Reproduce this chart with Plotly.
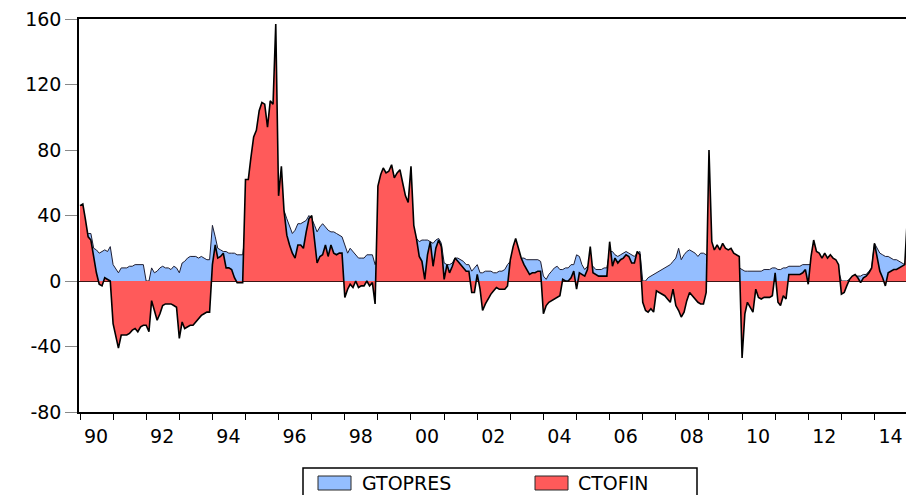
import pandas as pd
import plotly.graph_objects as go

# ---------------- data (monthly, 1990M01 - 2015M03) ----------------
start_month = "1990-01-01"

ctofin = [
    46, 47, 38, 27, 25, 15, 5, -2, -3, 2, 1, 0,            # 1990
    -26, -34, -41, -33, -33, -33, -32, -30, -29, -31, -28, -27,  # 1991
    -27, -31, -12, -19, -24, -20, -15, -14, -14, -14, -15, -16,  # 1992
    -35, -25, -29, -28, -27, -27, -25, -23, -21, -20, -19, -19,  # 1993
    10, 22, 14, 15, 17, 8, 8, 7, 2, -1, -1, -1,             # 1994
    62, 62, 75, 88, 92, 104, 109, 108, 94, 110, 108, 157,   # 1995
    52, 70, 43, 28, 22, 17, 14, 22, 22, 20, 30, 38,         # 1996
    40, 24, 11, 15, 16, 22, 15, 22, 17, 16, 17, 17,         # 1997
    -10, -5, -2, -4, 0, -4, -3, -3, 0, -3, -1, -14,         # 1998
    58, 65, 69, 66, 67, 71, 63, 66, 68, 60, 52, 48,         # 1999
    70, 34, 26, 15, 12, 1, 16, 24, 9, 20, 25, 21,           # 2000
    1, 10, 5, 9, 14, 12, 10, 8, 6, 6, -7, -7,               # 2001
    4, -5, -18, -14, -11, -8, -6, -4, -5, -5, -5, -3,       # 2002
    13, 21, 26, 20, 14, 10, 7, 4, 5, 5, 6, 6,               # 2003
    -20, -15, -13, -12, -11, -10, -9, 1, 0, 0, 2, 6,        # 2004
    -5, 5, 4, 3, 7, 21, 5, 4, 3, 3, 3, 3,                   # 2005
    24, 9, 14, 11, 13, 14, 16, 15, 11, 11, 18, 16,          # 2006
    -13, -18, -19, -17, -19, -6, -7, -8, -9, -11, -13, -5,  # 2007
    -15, -18, -22, -19, -12, -7, -9, -11, -13, -14, -14, -7,  # 2008
    80, 24, 19, 22, 19, 23, 20, 19, 20, 17, 16, 15,         # 2009
    -47, -20, -13, -16, -19, -5, -10, -11, -10, -10, -10, -9,  # 2010
    5, -13, -15, -9, -11, 4, 4, 4, 4, 4, 5, 7,              # 2011
    -2, 15, 25, 18, 17, 14, 17, 14, 16, 14, 13, 10,         # 2012
    -8, -7, -3, 1, 3, 4, 2, -1, 2, 3, 5, 8,                 # 2013
    23, 15, 6, 2, -3, 5, 6, 7, 7, 8, 9, 10,                 # 2014
    41, 41, 40,                                             # 2015
]

gtopres = [
    32, 31, 30, 29, 29, 20, 19, 17, 18, 19, 18, 21,         # 1990
    10, 7, 5, 8, 8, 8, 9, 9, 10, 10, 10, 10,                # 1991
    0, 0, 8, 5, 6, 8, 9, 8, 8, 7, 9, 8,                     # 1992
    5, 11, 12, 14, 15, 15, 15, 14, 15, 14, 13, 13,          # 1993
    34, 27, 20, 19, 18, 18, 17, 17, 17, 16, 16, 16,         # 1994
    30, 32, 35, 38, 40, 42, 44, 46, 46, 47, 48, 48,         # 1995
    45, 44, 43, 38, 33, 29, 31, 35, 35, 36, 37, 40,         # 1996
    38, 34, 30, 33, 35, 33, 31, 30, 30, 29, 28, 27,         # 1997
    22, 17, 20, 18, 16, 14, 14, 14, 16, 16, 16, 10,         # 1998
    15, 16, 18, 18, 20, 20, 20, 20, 22, 22, 24, 25,         # 1999
    26, 26, 26, 24, 25, 25, 25, 24, 23, 25, 26, 23,         # 2000
    11, 10, 10, 11, 14, 14, 13, 12, 10, 10, 6, 8,           # 2001
    10, 5, 5, 6, 6, 6, 5, 5, 6, 6, 7, 10,                   # 2002
    12, 14, 15, 15, 14, 14, 13, 13, 13, 13, 13, 12,         # 2003
    3, 1, 4, 6, 8, 9, 7, 7, 8, 8, 10, 10,                   # 2004
    16, 15, 10, 7, 9, 10, 9, 7, 7, 7, 8, 8,                 # 2005
    18, 18, 16, 15, 16, 17, 18, 17, 16, 15, 17, 18,         # 2006
    0, 0, 2, 3, 4, 5, 6, 7, 8, 9, 10, 12,                   # 2007
    14, 20, 13, 16, 18, 19, 18, 17, 15, 17, 17, 16,         # 2008
    14, 12, 10, 10, 9, 9, 8, 8, 8, 8, 8, 8,                 # 2009
    7, 6, 6, 6, 6, 6, 6, 6, 7, 7, 7, 8,                     # 2010
    8, 7, 7, 8, 8, 9, 9, 9, 9, 9, 10, 10,                   # 2011
    10, 10, 10, 10, 10, 10, 9, 9, 8, 8, 7, 6,               # 2012
    0, 0, 0, 1, 2, 3, 3, 3, 4, 4, 6, 8,                     # 2013
    23, 20, 17, 16, 15, 15, 14, 13, 13, 12, 11, 10,         # 2014
    10, 10, 10,                                             # 2015
]

series_names = ["GTOPRES", "CTOFIN"]
tick_years = list(range(1990, 2016))
y_ticks = [-80, -40, 0, 40, 80, 120, 160]

# ---------------- figure ----------------
dates = pd.date_range(start_month, periods=len(ctofin), freq="MS")

BLUE = "rgb(148,190,255)"
RED = "rgb(255,90,90)"
FONT = "DejaVu Sans"

# the page body adds an 8 px offset; the figure is sized so the plot
# area lands at x 79..914, y 19..412 of the window
OFF = 8
W, H = 914 - OFF, 495 - OFF
ML, MT, MB, MR = 79 - OFF, 19 - OFF, 83, 0

fig = go.Figure()
fig.add_trace(go.Scatter(
    x=dates, y=gtopres, name=series_names[0], mode="lines",
    fill="tozeroy", fillcolor=BLUE,
    line=dict(color="rgb(30,30,50)", width=1),
    showlegend=False,
))
fig.add_trace(go.Scatter(
    x=dates, y=ctofin, name=series_names[1], mode="lines",
    fill="tozeroy", fillcolor=RED,
    line=dict(color="black", width=1.6),
    showlegend=False,
))

tickvals_x = [f"{y}-01-01" for y in tick_years]
ticktext_x = [f"{y % 100:02d}" if y % 2 == 0 else "" for y in tick_years]
ticktext_y = [str(v) for v in y_ticks]  # ASCII hyphen minus, as in the reference

fig.update_layout(
    width=W, height=H,
    margin=dict(l=ML, r=MR, t=MT, b=MB, autoexpand=False),
    paper_bgcolor="white", plot_bgcolor="white",
    font=dict(family=FONT, size=19, color="black"),
    xaxis=dict(
        range=["1989-12-21", "2015-03-13"],
        tickmode="array", tickvals=tickvals_x, ticktext=ticktext_x,
        ticks="outside", ticklen=6, tickwidth=1, tickcolor="black",
        ticklabelshift=16, ticklabeloverflow="allow",
        showgrid=False, zeroline=False,
        showline=True, linecolor="black", linewidth=1.5, mirror=True,
        tickfont=dict(family=FONT, size=19, color="black"),
    ),
    yaxis=dict(
        range=[-80, 160],
        tickmode="array", tickvals=y_ticks, ticktext=ticktext_y,
        ticks="outside", ticklen=12, tickwidth=1, tickcolor="#888888",
        ticklabeloverflow="allow",
        showgrid=False,
        zeroline=True, zerolinecolor="rgb(60,20,20)", zerolinewidth=1,
        showline=True, linecolor="black", linewidth=1.5,
        layer="above traces",
        tickfont=dict(family=FONT, size=19, color="black"),
    ),
)

# ---------------- manual legend (EViews style box) ----------------
PW, PH = 835.0, 393.0

def px_x(px):
    return (px - 79) / PW

def px_y(py):
    return (412 - py) / PH

shapes = [
    dict(type="rect", xref="paper", yref="paper",
         x0=px_x(303), x1=px_x(697), y0=px_y(468), y1=px_y(500),
         line=dict(color="black", width=1.5), fillcolor="white"),
    dict(type="rect", xref="paper", yref="paper",
         x0=px_x(318), x1=px_x(351), y0=px_y(476), y1=px_y(490),
         line=dict(color="rgb(40,40,40)", width=1), fillcolor=BLUE),
    dict(type="rect", xref="paper", yref="paper",
         x0=px_x(535), x1=px_x(568), y0=px_y(476), y1=px_y(490),
         line=dict(color="rgb(40,40,40)", width=1), fillcolor=RED),
]
annotations = [
    dict(xref="paper", yref="paper", x=px_x(360), y=px_y(483),
         text=series_names[0], showarrow=False, xanchor="left", yanchor="middle",
         font=dict(family=FONT, size=19, color="black")),
    dict(xref="paper", yref="paper", x=px_x(576), y=px_y(483),
         text=series_names[1], showarrow=False, xanchor="left", yanchor="middle",
         font=dict(family=FONT, size=19, color="black")),
]
fig.update_layout(shapes=shapes, annotations=annotations)

fig.write_html("out.html")
